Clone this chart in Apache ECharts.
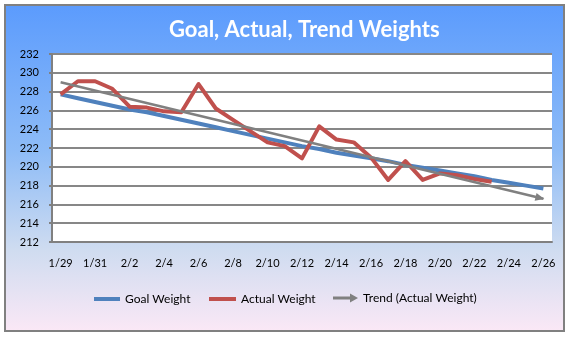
<!DOCTYPE html>
<html>
<head>
<meta charset="utf-8">
<script src="https://cdn.jsdelivr.net/npm/echarts@6/dist/echarts.min.js"></script>
<style>
html,body{margin:0;padding:0;background:#fff;}
#c{width:569px;height:338px;}
</style>
</head>
<body>
<div id="c"></div>
<script>
var categories = ['1/29','1/30','1/31','2/1','2/2','2/3','2/4','2/5','2/6','2/7','2/8','2/9','2/10','2/11','2/12','2/13','2/14','2/15','2/16','2/17','2/18','2/19','2/20','2/21','2/22','2/23','2/24','2/25','2/26'];
var goalWeight = [227.7,227.3,226.9,226.5,226.1,225.8,225.4,225.0,224.6,224.2,223.8,223.4,223.0,222.6,222.2,221.9,221.5,221.2,220.9,220.6,220.2,219.9,219.6,219.3,219.0,218.6,218.3,218.0,217.7];
var actualWeight = [227.7,229.1,229.1,228.3,226.4,226.3,225.9,225.8,228.8,226.2,225.0,223.8,222.6,222.2,220.9,224.3,222.9,222.6,221.0,218.6,220.6,218.6,219.3,219.1,218.7,218.4];
var trendStart = 229.0;
var trendEnd = 216.6;
var yTicks = {min: 212, max: 232, step: 2};
var seriesNames = ['Goal Weight','Actual Weight','Trend (Actual Weight)'];

var FONT = 'Lato, "Open Sans", sans-serif';
var chart = echarts.init(document.getElementById('c'), null, {renderer: 'canvas'});
var legendBase = {
  padding: 0, orient: 'horizontal', itemGap: 5, selectedMode: false,
  textStyle: {fontFamily: FONT, fontSize: 12, color: '#000'}
};
var lastIdx = categories.length - 1;
function trendData(rot, off) {
  var d = categories.map(function () { return null; });
  d[0] = {value: trendStart, symbol: 'none'};
  d[lastIdx] = {value: trendEnd, symbol: 'triangle', symbolSize: [8, 9], symbolRotate: rot, symbolOffset: off};
  return d;
}
chart.setOption({
  animation: false,
  graphic: [{
    type: 'rect', z: -1, silent: true,
    shape: {x: 5, y: 5, width: 559, height: 326},
    style: {
      fill: new echarts.graphic.LinearGradient(0, 0, 0, 1, [
        {offset: 0, color: '#5b9bfd'},
        {offset: 0.45, color: '#8ebcf7'},
        {offset: 0.75, color: '#cfdcf0'},
        {offset: 1, color: '#fbe8f6'}
      ]),
      stroke: '#808080', lineWidth: 2
    }
  }],
  title: {
    text: 'Goal, Actual, Trend Weights',
    left: 164, top: 14,
    textStyle: {fontFamily: FONT, fontWeight: 'bold', fontSize: 22, color: '#fff'}
  },
  legend: [
    Object.assign({}, legendBase, {left: 94, top: 293, data: [seriesNames[0]], icon: 'rect', itemWidth: 26, itemHeight: 4}),
    Object.assign({}, legendBase, {left: 209, top: 293, data: [seriesNames[1]], icon: 'rect', itemWidth: 27, itemHeight: 4}),
    Object.assign({}, legendBase, {left: 333, top: 292, data: [{name: seriesNames[2], icon: 'path://M0,3 L17,3 L17,0 L25,4.5 L17,9 L17,6 L0,6 Z'}], itemWidth: 25, itemHeight: 9})
  ],
  grid: {left: 52, right: 17, top: 54, bottom: 96, show: true, backgroundColor: '#fff', borderWidth: 0},
  xAxis: {
    type: 'category', data: categories, boundaryGap: true,
    axisLine: {lineStyle: {color: '#808080', width: 2}},
    axisTick: {interval: 1, length: 3, lineStyle: {color: '#808080', width: 2}},
    axisLabel: {interval: 1, margin: 16, fontFamily: FONT, fontSize: 11, color: '#000'},
    splitLine: {show: false}
  },
  yAxis: {
    type: 'value', min: yTicks.min, max: yTicks.max, interval: yTicks.step,
    axisLine: {show: true, lineStyle: {color: '#808080', width: 2}},
    axisTick: {show: true, length: 3, lineStyle: {color: '#808080', width: 2}},
    axisLabel: {margin: 13, fontFamily: FONT, fontSize: 11, color: '#000'},
    splitLine: {show: true, lineStyle: {color: '#878787', width: 2}}
  },
  series: [
    {name: seriesNames[0], type: 'line', data: goalWeight, showSymbol: false, symbol: 'none',
      color: '#4f81bd', lineStyle: {width: 4, color: '#4f81bd', join: 'round'}},
    {name: seriesNames[1], type: 'line', data: actualWeight, showSymbol: false, symbol: 'none',
      color: '#c0504d', lineStyle: {width: 4, color: '#c0504d', join: 'round'}},
    {name: seriesNames[2], type: 'line', data: trendData(0, [0, 0]), connectNulls: true,
      showSymbol: true, showAllSymbol: true, color: '#808080',
      itemStyle: {color: '#808080'},
      lineStyle: {width: 2.5, color: '#808080'}}
  ]
});
// orient the arrow head along the trend line using the chart's own scales
var p0 = chart.convertToPixel({seriesIndex: 2}, [0, trendStart]);
var p1 = chart.convertToPixel({seriesIndex: 2}, [lastIdx, trendEnd]);
var ang = Math.atan2(p1[1] - p0[1], p1[0] - p0[0]);
var deg = ang * 180 / Math.PI;
var back = 3.5;
chart.setOption({
  series: [{}, {}, {data: trendData(-(90 + deg), [-back * Math.cos(ang), -back * Math.sin(ang)])}]
});
</script>
</body>
</html>
